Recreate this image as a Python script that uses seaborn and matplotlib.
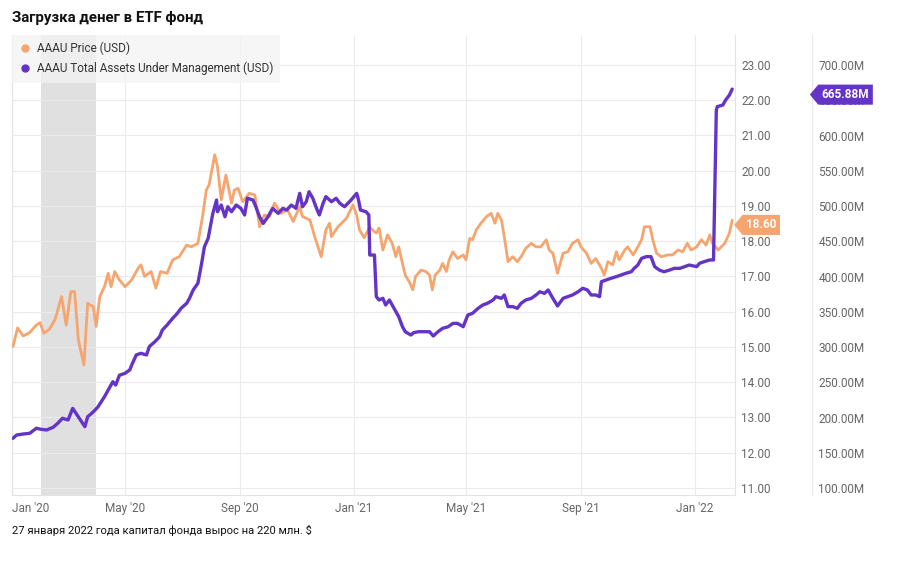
import matplotlib
matplotlib.use("Agg")
import matplotlib.pyplot as plt
from matplotlib.ticker import FuncFormatter
from matplotlib.lines import Line2D
from matplotlib.path import Path
import seaborn as sns
import pandas as pd

# ---------------- data ----------------
title = "Загрузка денег в ETF фонд"
footer = "27 января 2022 года капитал фонда вырос на 220 млн. $"
price_name = "AAAU Price (USD)"
aum_name = "AAAU Total Assets Under Management (USD)"

price_dates = [
    "2020-01-02", "2020-01-07", "2020-01-13", "2020-01-20", "2020-01-27", "2020-01-31",
    "2020-02-04", "2020-02-10", "2020-02-16", "2020-02-23", "2020-02-28", "2020-03-04",
    "2020-03-08", "2020-03-12", "2020-03-18", "2020-03-22", "2020-03-28", "2020-03-31",
    "2020-04-04", "2020-04-09", "2020-04-13", "2020-04-16", "2020-04-20", "2020-04-25",
    "2020-05-01", "2020-05-08", "2020-05-15", "2020-05-18", "2020-05-22", "2020-05-29",
    "2020-06-03", "2020-06-08", "2020-06-15", "2020-06-21", "2020-06-28", "2020-07-06",
    "2020-07-11", "2020-07-18", "2020-07-23", "2020-07-27", "2020-07-30", "2020-08-05",
    "2020-08-08", "2020-08-12", "2020-08-17", "2020-08-23", "2020-08-26", "2020-08-30",
    "2020-09-04", "2020-09-11", "2020-09-17", "2020-09-22", "2020-09-27", "2020-10-03",
    "2020-10-08", "2020-10-15", "2020-10-22", "2020-10-28", "2020-11-04", "2020-11-07",
    "2020-11-15", "2020-11-20", "2020-11-27", "2020-12-02", "2020-12-06", "2020-12-08",
    "2020-12-15", "2020-12-24", "2020-12-31", "2021-01-04", "2021-01-07", "2021-01-12",
    "2021-01-18", "2021-01-23", "2021-01-25", "2021-01-28", "2021-02-01", "2021-02-06",
    "2021-02-11", "2021-02-15", "2021-02-18", "2021-02-22", "2021-02-25", "2021-03-02",
    "2021-03-05", "2021-03-08", "2021-03-14", "2021-03-19", "2021-03-23", "2021-03-26",
    "2021-03-29", "2021-04-03", "2021-04-06", "2021-04-10", "2021-04-13", "2021-04-17",
    "2021-04-22", "2021-04-28", "2021-05-01", "2021-05-05", "2021-05-08", "2021-05-12",
    "2021-05-17", "2021-05-23", "2021-05-28", "2021-06-01", "2021-06-04", "2021-06-08",
    "2021-06-11", "2021-06-15", "2021-06-20", "2021-06-25", "2021-06-29", "2021-07-04",
    "2021-07-10", "2021-07-15", "2021-07-20", "2021-07-26", "2021-07-29", "2021-08-02",
    "2021-08-07", "2021-08-13", "2021-08-18", "2021-08-23", "2021-08-29", "2021-09-01",
    "2021-09-07", "2021-09-12", "2021-09-17", "2021-09-23", "2021-09-26", "2021-09-30",
    "2021-10-05", "2021-10-09", "2021-10-12", "2021-10-18", "2021-10-21", "2021-10-27",
    "2021-11-01", "2021-11-05", "2021-11-08", "2021-11-14", "2021-11-17", "2021-11-21",
    "2021-11-26", "2021-12-03", "2021-12-08", "2021-12-14", "2021-12-19", "2021-12-24",
    "2021-12-28", "2022-01-03", "2022-01-08", "2022-01-13", "2022-01-17", "2022-01-20",
    "2022-01-26", "2022-02-02", "2022-02-07", "2022-02-10",
]
price_values = [
    15.01, 15.54, 15.31, 15.41, 15.62, 15.69,
    15.39, 15.50, 15.77, 16.43, 15.62, 16.57,
    16.57, 15.20, 14.49, 16.24, 16.14, 15.58,
    16.43, 16.71, 17.09, 16.71, 17.14, 16.90,
    16.71, 16.90, 17.23, 17.33, 17.00, 17.14,
    16.67, 17.14, 17.09, 17.47, 17.56, 17.89,
    17.84, 17.94, 18.70, 19.45, 19.60, 20.45,
    20.11, 19.17, 19.88, 19.08, 19.45, 19.50,
    19.12, 19.36, 19.31, 18.41, 18.74, 18.70,
    19.08, 18.79, 18.89, 18.56, 18.98, 18.70,
    18.60, 18.13, 17.56, 18.32, 18.51, 18.13,
    18.41, 18.65, 19.03, 18.74, 18.32, 18.10,
    18.40, 18.27, 18.23, 18.37, 17.75, 18.18,
    17.94, 17.56, 17.84, 17.37, 17.04, 16.81,
    16.62, 17.00, 17.18, 17.14, 17.04, 16.62,
    17.04, 17.18, 17.37, 17.14, 17.47, 17.70,
    17.51, 17.61, 17.47, 18.08, 18.04, 18.32,
    18.51, 18.70, 18.79, 18.51, 18.79, 18.60,
    18.13, 17.42, 17.56, 17.42, 17.56, 17.80,
    17.94, 17.84, 17.84, 18.04, 17.75, 17.66,
    17.09, 17.66, 17.70, 17.94, 18.04, 17.84,
    17.66, 17.37, 17.51, 17.23, 17.04, 17.42,
    17.33, 17.70, 17.47, 17.75, 17.84, 17.61,
    17.84, 18.04, 18.41, 18.41, 18.04, 17.66,
    17.56, 17.61, 17.61, 17.75, 17.70, 17.94,
    17.75, 17.84, 18.04, 17.89, 18.18, 17.94,
    17.75, 17.94, 18.23, 18.60,
]

aum_dates = [
    "2020-01-02", "2020-01-06", "2020-01-13", "2020-01-20", "2020-01-27", "2020-02-01",
    "2020-02-07", "2020-02-14", "2020-02-19", "2020-02-24", "2020-03-01", "2020-03-06",
    "2020-03-12", "2020-03-19", "2020-03-22", "2020-03-28", "2020-04-02", "2020-04-09",
    "2020-04-14", "2020-04-18", "2020-04-21", "2020-04-25", "2020-05-01", "2020-05-06",
    "2020-05-09", "2020-05-13", "2020-05-18", "2020-05-24", "2020-05-27", "2020-06-02",
    "2020-06-07", "2020-06-10", "2020-06-15", "2020-06-21", "2020-06-26", "2020-06-30",
    "2020-07-06", "2020-07-09", "2020-07-13", "2020-07-18", "2020-07-22", "2020-07-25",
    "2020-07-29", "2020-08-03", "2020-08-07", "2020-08-08", "2020-08-12", "2020-08-16",
    "2020-08-19", "2020-08-23", "2020-08-28", "2020-09-02", "2020-09-06", "2020-09-09",
    "2020-09-15", "2020-09-18", "2020-09-22", "2020-09-26", "2020-10-01", "2020-10-06",
    "2020-10-12", "2020-10-17", "2020-10-21", "2020-10-26", "2020-10-31", "2020-11-04",
    "2020-11-07", "2020-11-11", "2020-11-14", "2020-11-18", "2020-11-22", "2020-11-25",
    "2020-11-29", "2020-12-02", "2020-12-08", "2020-12-13", "2020-12-17", "2020-12-22",
    "2020-12-29", "2021-01-04", "2021-01-06", "2021-01-08", "2021-01-14", "2021-01-17",
    "2021-01-18", "2021-01-23", "2021-01-25", "2021-01-28", "2021-02-01", "2021-02-04",
    "2021-02-08", "2021-02-11", "2021-02-15", "2021-02-18", "2021-02-22", "2021-02-25",
    "2021-03-03", "2021-03-06", "2021-03-11", "2021-03-17", "2021-03-23", "2021-03-27",
    "2021-04-01", "2021-04-06", "2021-04-12", "2021-04-17", "2021-04-22", "2021-04-28",
    "2021-05-03", "2021-05-08", "2021-05-14", "2021-05-19", "2021-05-24", "2021-05-30",
    "2021-06-02", "2021-06-08", "2021-06-11", "2021-06-15", "2021-06-20", "2021-06-25",
    "2021-06-29", "2021-07-04", "2021-07-10", "2021-07-15", "2021-07-19", "2021-07-24",
    "2021-07-28", "2021-08-01", "2021-08-07", "2021-08-13", "2021-08-18", "2021-08-23",
    "2021-08-29", "2021-09-03", "2021-09-08", "2021-09-12", "2021-09-17", "2021-09-21",
    "2021-09-23", "2021-09-28", "2021-10-03", "2021-10-09", "2021-10-14", "2021-10-19",
    "2021-10-25", "2021-10-28", "2021-11-01", "2021-11-05", "2021-11-10", "2021-11-15",
    "2021-11-19", "2021-11-24", "2021-11-29", "2021-12-05", "2021-12-10", "2021-12-16",
    "2021-12-21", "2021-12-26", "2022-01-03", "2022-01-06", "2022-01-11", "2022-01-17",
    "2022-01-21", "2022-01-24", "2022-01-25", "2022-01-31", "2022-02-03", "2022-02-07",
    "2022-02-10",
]
aum_values = [
    170.5, 175.2, 176.6, 177.6, 184.7, 183.3,
    182.3, 186.1, 191.8, 198.9, 196.5, 213.0,
    201.0, 187.0, 201.0, 208.0, 215.0, 229.5,
    241.4, 250.8, 246.0, 260.0, 262.7, 267.4,
    276.9, 288.7, 291.1, 288.7, 300.6, 307.6,
    314.6, 324.1, 331.2, 340.7, 347.8, 354.9,
    362.0, 369.1, 381.0, 390.4, 418.7, 442.3,
    454.2, 489.6, 508.5, 491.9, 501.4, 484.8,
    499.0, 491.9, 501.4, 496.7, 487.3, 511.0,
    508.5, 499.0, 484.8, 475.3, 484.8, 496.7,
    489.6, 496.7, 494.3, 501.4, 496.7, 518.0,
    499.0, 506.1, 520.3, 511.0, 496.7, 487.3,
    503.8, 513.3, 506.1, 511.0, 503.8, 499.0,
    508.5, 518.0, 508.5, 494.3, 491.9, 487.3,
    430.5, 430.5, 371.4, 366.7, 369.1, 359.6,
    366.7, 359.6, 350.1, 343.0, 328.8, 321.7,
    317.0, 320.3, 321.7, 321.7, 321.7, 315.6,
    321.7, 326.5, 328.8, 333.5, 333.5, 328.8,
    345.4, 347.8, 354.9, 359.6, 362.0, 366.7,
    371.4, 369.1, 373.8, 357.3, 357.3, 354.9,
    362.0, 366.7, 369.1, 373.8, 378.4, 376.1,
    380.9, 371.4, 358.2, 369.1, 371.4, 373.8,
    378.4, 383.3, 380.9, 373.8, 373.8, 371.4,
    392.7, 395.0, 397.4, 399.8, 402.1, 404.5,
    406.8, 411.6, 416.3, 425.8, 428.2, 428.2,
    414.0, 409.2, 406.8, 409.2, 411.6, 411.6,
    414.0, 416.3, 414.0, 418.7, 421.1, 423.5,
    423.5, 636.2, 640.9, 643.3, 650.4, 657.4,
    665.88,
]

shade_start = "2020-02-01"
shade_end = "2020-03-31"

xtick_dates = ["2020-01-01", "2020-05-01", "2020-09-01", "2021-01-01",
               "2021-05-01", "2021-09-01", "2022-01-01"]
xtick_labels = ["Jan '20", "May '20", "Sep '20", "Jan '21",
                "May '21", "Sep '21", "Jan '22"]
price_ticks = [11, 12, 13, 14, 15, 16, 17, 18, 19, 20, 21, 22, 23]
aum_ticks = [100, 150, 200, 250, 300, 350, 400, 450, 500, 550, 600, 650, 700]
price_badge = "18.60"
aum_badge = "665.88M"

# ---------------- style ----------------
ORANGE = "#F6A56E"
PURPLE = "#6334C6"
GRID = "#ebebeb"
TICK = "#666666"

sns.set_theme(style="white")
plt.rcParams["font.family"] = ["Roboto", "DejaVu Sans"]


def badge_box(x0, y0, width, height, mutation_size):
    pad = 0.3 * mutation_size
    x0, y0 = x0 - pad, y0 - pad
    width, height = width + 2 * pad, height + 2 * pad
    tip = 0.42 * height
    verts = [(x0, y0), (x0 + width, y0), (x0 + width, y0 + height),
             (x0, y0 + height), (x0 - tip, y0 + height / 2), (x0, y0)]
    return Path(verts, closed=True)


price_df = pd.DataFrame({"date": pd.to_datetime(price_dates), "price": price_values})
aum_df = pd.DataFrame({"date": pd.to_datetime(aum_dates), "aum": aum_values})

fig = plt.figure(figsize=(9.0, 5.72), dpi=100)
ax = fig.add_axes([12 / 900, 1 - 495 / 572, (735 - 12) / 900, (495 - 35) / 572])
ax2 = ax.twinx()

ax.axvspan(pd.Timestamp(shade_start), pd.Timestamp(shade_end), color="#e0e0e0", lw=0, zorder=0)

sns.lineplot(data=price_df, x="date", y="price", ax=ax, color=ORANGE, lw=2.0, zorder=3)
sns.lineplot(data=aum_df, x="date", y="aum", ax=ax2, color=PURPLE, lw=2.4, zorder=3)

ax.set_xlim(pd.Timestamp("2020-01-01"), pd.Timestamp("2022-02-13"))
ax.set_ylim(10.80, 23.85)
ax2.set_ylim(90.07, 742.6)

ax.yaxis.tick_right()
ax.yaxis.set_label_position("right")
ax.set_yticks(price_ticks)
ax.yaxis.set_major_formatter(FuncFormatter(lambda v, p: f"{v:.2f}"))
ax2.set_yticks(aum_ticks)
ax2.yaxis.set_major_formatter(FuncFormatter(lambda v, p: f"{v:.2f}M"))
ax2.spines["right"].set_position(("outward", 55.4))

ax.set_xticks(pd.to_datetime(xtick_dates))
ax.set_xticklabels(xtick_labels)
ax.xaxis.get_major_ticks()[0].label1.set_horizontalalignment("left")

for a in (ax, ax2):
    a.set_xlabel("")
    a.set_ylabel("")
    a.tick_params(length=0, labelsize=8.5, labelcolor=TICK)
ax.tick_params(axis="y", pad=4.5)
ax2.tick_params(axis="y", pad=4.5)
ax.tick_params(axis="x", pad=5)

ax.grid(True, color=GRID, lw=0.8)
ax2.grid(False)
ax.set_axisbelow(True)

ax.spines["top"].set_visible(False)
for s in ["left", "bottom", "right"]:
    ax.spines[s].set_color("#e3e3e3")
    ax.spines[s].set_linewidth(0.8)
for s in ["top", "left", "bottom"]:
    ax2.spines[s].set_visible(False)
ax2.spines["right"].set_color("#e8e8e8")
ax2.spines["right"].set_linewidth(0.8)

handles = [
    Line2D([], [], marker="o", ls="none", color=ORANGE, markersize=5),
    Line2D([], [], marker="o", ls="none", color=PURPLE, markersize=5),
]
leg = ax2.legend(handles, [price_name, aum_name], loc="upper left",
                 bbox_to_anchor=(0, 1), borderaxespad=0, frameon=True,
                 fancybox=False, facecolor="#f4f4f4", edgecolor="none",
                 framealpha=0.75, fontsize=8.5, handlelength=1.0,
                 handletextpad=0.5, labelspacing=0.55, borderpad=0.6)
for t in leg.get_texts():
    t.set_color("#333333")
leg.set_zorder(10)

ax.annotate(price_badge, xy=(1, price_values[-1]), xycoords=("axes fraction", "data"),
            xytext=(8, -3.5), textcoords="offset points", va="center", ha="left",
            color="white", fontsize=8.5, fontweight="bold", annotation_clip=False,
            bbox=dict(boxstyle=badge_box, fc=ORANGE, ec="none"), zorder=20)
ax2.annotate(aum_badge, xy=(1, aum_values[-1]), xycoords=("axes fraction", "data"),
             xytext=(62.5, -4), textcoords="offset points", va="center", ha="left",
             color="white", fontsize=8.5, fontweight="bold", annotation_clip=False,
             bbox=dict(boxstyle=badge_box, fc=PURPLE, ec="none"), zorder=20)

fig.text(12 / 900, 1 - 18 / 572, title, fontsize=10.8, fontweight="bold",
         va="center", ha="left", color="#111111")
fig.text(12 / 900, 1 - 530 / 572, footer, fontsize=8.1, va="center", ha="left",
         color="#111111")

fig.savefig("out.png", dpi=100)
